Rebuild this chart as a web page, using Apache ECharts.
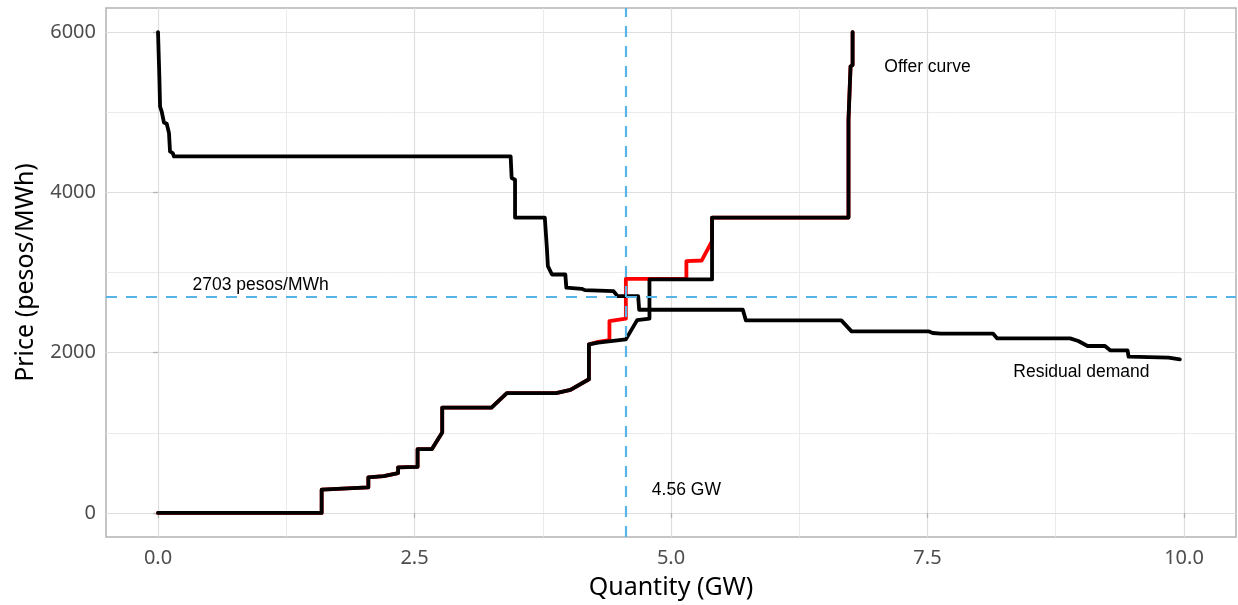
<!DOCTYPE html>
<html>
<head>
<meta charset="utf-8">
<script src="https://cdn.jsdelivr.net/npm/echarts@6/dist/echarts.min.js"></script>
<style>html,body{margin:0;padding:0;background:#fff;}#chart{width:1238px;height:605px;}</style>
</head>
<body>
<div id="chart"></div>
<script>
// Offer curve (black), quantity in GW and price in pesos/MWh
const offerQ = [0, 1.595, 1.595, 2.05, 2.05, 2.20, 2.34, 2.34, 2.53, 2.53, 2.67, 2.77, 2.77, 3.25, 3.40, 3.88, 4.02, 4.20, 4.20, 4.29, 4.56, 4.67, 4.79, 4.79, 5.40, 5.40, 6.73, 6.73, 6.745, 6.75, 6.77, 6.77];
const offerP = [0, 0, 290, 320, 444, 460, 498, 569, 575, 797, 797, 1004, 1315, 1315, 1494, 1494, 1535, 1668, 2104, 2125, 2166, 2406, 2424, 2913, 2913, 3685, 3685, 4905, 4905, 5569, 5590, 6000];
// Alternative offer curve (red)
const altQ = [0, 1.595, 1.595, 2.05, 2.05, 2.20, 2.34, 2.34, 2.53, 2.53, 2.67, 2.77, 2.77, 3.25, 3.40, 3.88, 4.02, 4.20, 4.20, 4.29, 4.40, 4.40, 4.56, 4.56, 5.15, 5.15, 5.30, 5.40, 5.40, 6.73, 6.73, 6.745, 6.75, 6.77, 6.77];
const altP = [0, 0, 290, 320, 444, 460, 498, 569, 575, 797, 797, 1004, 1315, 1315, 1494, 1494, 1535, 1668, 2104, 2135, 2157, 2394, 2424, 2921, 2921, 3141, 3150, 3392, 3685, 3685, 4905, 4905, 5569, 5590, 6000];
// Residual demand curve
const demandQ = [0, 0.013, 0.02, 0.036, 0.058, 0.085, 0.107, 0.117, 0.143, 0.156, 3.437, 3.447, 3.48, 3.48, 3.77, 3.79, 3.80, 3.84, 3.97, 3.98, 4.13, 4.16, 4.44, 4.48, 4.68, 4.69, 5.70, 5.73, 6.66, 6.76, 7.51, 7.55, 7.63, 8.14, 8.18, 8.89, 8.97, 9.06, 9.23, 9.28, 9.45, 9.46, 9.85, 9.96];
const demandP = [6000, 5444, 5070, 5008, 4871, 4855, 4739, 4510, 4490, 4448, 4448, 4179, 4158, 3685, 3685, 3307, 3079, 2975, 2975, 2810, 2797, 2780, 2767, 2705, 2705, 2535, 2535, 2403, 2403, 2266, 2266, 2245, 2237, 2237, 2178, 2178, 2145, 2083, 2083, 2029, 2029, 1950, 1938, 1917];
// Equilibrium
const eqQ = 4.56;
const eqP = 2703;
// Annotations
const labelTexts = ['Offer curve', 'Residual demand', '2703 pesos/MWh', '4.56 GW'];
const labelX = [7.5, 9.0, 1.0, 5.15];
const labelY = [5560, 1755, 2845, 290];
// Ticks
const xTicks = [0, 2.5, 5, 7.5, 10];
const xMinor = [1.25, 3.75, 6.25, 8.75];
const yTicks = [0, 2000, 4000, 6000];
const yMinor = [1000, 3000, 5000];

const pairs = (xs, ys) => xs.map((x, i) => [x, ys[i]]);

const chart = echarts.init(document.getElementById('chart'), null, {renderer: 'canvas'});
const xRange = {min: -0.507, max: 10.507};
const yRange = {min: -300, max: 6300};
const lineBase = {type: 'line', showSymbol: false, symbol: 'none', silent: true, animation: false};
const option = {
  animation: false,
  backgroundColor: '#fff',
  grid: {left: 106, right: 2, top: 8, bottom: 68, show: true, borderColor: '#b3b3b3', borderWidth: 1.5, backgroundColor: '#fff'},
  xAxis: [{
    type: 'value', min: xRange.min, max: xRange.max,
    axisLine: {show: false},
    axisTick: {show: true, customValues: xTicks, length: 5, lineStyle: {color: '#b3b3b3', width: 1.3}},
    axisLabel: {customValues: xTicks, formatter: v => Number(v).toFixed(1), fontFamily: 'Noto Sans', fontSize: 20, color: '#4d4d4d', margin: 11},
    splitLine: {show: true, lineStyle: {color: '#dedede', width: 1.2}},
    name: 'Quantity (GW)', nameLocation: 'middle', nameGap: 38,
    nameTextStyle: {fontFamily: 'Noto Sans', fontSize: 25, color: '#000'}
  }, {
    type: 'value', min: xRange.min, max: xRange.max, position: 'bottom',
    axisLine: {show: false},
    axisTick: {show: false, customValues: xMinor},
    axisLabel: {show: false, customValues: xMinor},
    splitLine: {show: true, lineStyle: {color: '#e6e6e6', width: 0.8}}
  }],
  yAxis: [{
    type: 'value', min: yRange.min, max: yRange.max,
    axisLine: {show: false},
    axisTick: {show: true, customValues: yTicks, length: 5, lineStyle: {color: '#b3b3b3', width: 1.3}},
    axisLabel: {customValues: yTicks, formatter: v => String(Math.round(v)), fontFamily: 'Noto Sans', fontSize: 20, color: '#4d4d4d', margin: 10},
    splitLine: {show: true, lineStyle: {color: '#dedede', width: 1.2}},
    name: 'Price (pesos/MWh)', nameLocation: 'middle', nameGap: 68, nameRotate: 90,
    nameTextStyle: {fontFamily: 'Noto Sans', fontSize: 25, color: '#000'}
  }, {
    type: 'value', min: yRange.min, max: yRange.max, position: 'left',
    axisLine: {show: false},
    axisTick: {show: false, customValues: yMinor},
    axisLabel: {show: false, customValues: yMinor},
    splitLine: {show: true, lineStyle: {color: '#e6e6e6', width: 0.8}}
  }],
  series: [
    Object.assign({}, lineBase, {
      name: 'ref', data: [], z: 1,
      markLine: {
        silent: true, symbol: ['none', 'none'], animation: false,
        label: {show: false},
        lineStyle: {color: '#56B4E9', type: [11, 9], width: 2.2},
        data: [{xAxis: eqQ}, {yAxis: eqP}]
      }
    }),
    Object.assign({}, lineBase, {
      name: 'alt', z: 2, data: pairs(altQ, altP),
      lineStyle: {color: '#ff0000', width: 3.8, cap: 'round', join: 'round'}
    }),
    Object.assign({}, lineBase, {
      name: 'offer', z: 3, data: pairs(offerQ, offerP),
      lineStyle: {color: '#000', width: 3.8, cap: 'round', join: 'round'}
    }),
    Object.assign({}, lineBase, {
      name: 'demand', z: 3, data: pairs(demandQ, demandP),
      lineStyle: {color: '#000', width: 3.8, cap: 'round', join: 'round'}
    }),
    {
      type: 'scatter', name: 'labels', z: 4, silent: true, symbolSize: 1,
      itemStyle: {color: 'rgba(0,0,0,0)'},
      data: labelX.map((x, i) => ({value: [x, labelY[i]], name: labelTexts[i]})),
      label: {show: true, position: 'inside', formatter: '{b}', fontFamily: 'Liberation Sans', fontSize: 17.5, color: '#000000', textBorderWidth: 0, textBorderColor: 'transparent', opacity: 1}
    }
  ]
};
chart.setOption(option);
</script>
</body>
</html>
